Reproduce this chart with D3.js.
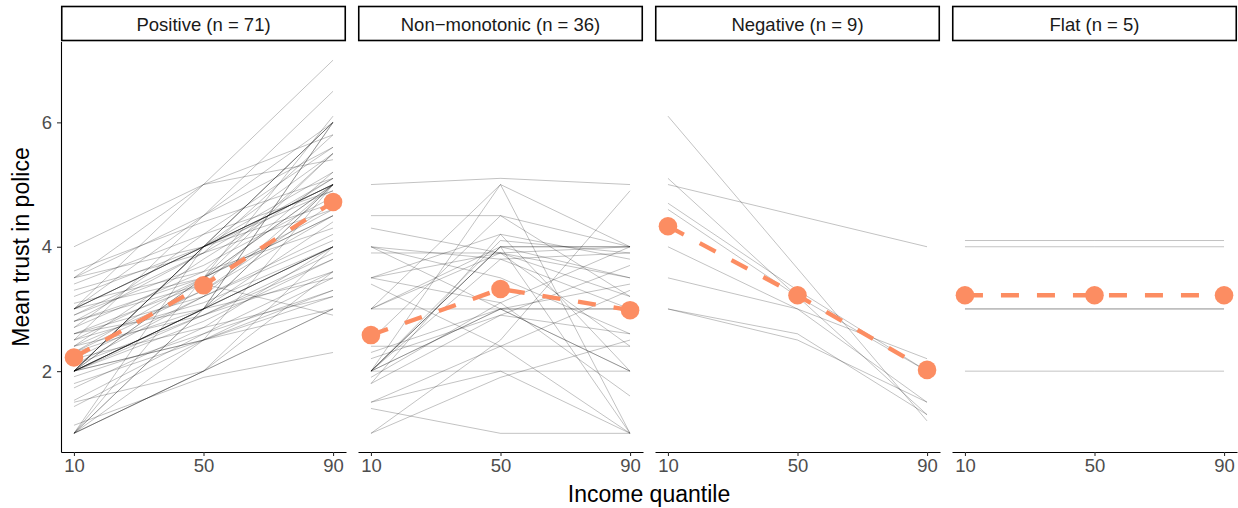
<!DOCTYPE html>
<html><head><meta charset="utf-8">
<script src="https://cdnjs.cloudflare.com/ajax/libs/d3/7.8.5/d3.min.js"></script>
<style>body{margin:0;background:#fff}svg{display:block;font-family:"Liberation Sans",Arial,sans-serif}</style>
</head><body><svg id="c" width="1238" height="508"></svg>
<script>
const quantiles = [10, 50, 90];
const xTicks = [10, 50, 90];
const yTicks = [2, 4, 6];
const facetLabels = ["Positive (n = 71)", "Non\u2212monotonic (n = 36)", "Negative (n = 9)", "Flat (n = 5)"];

const positiveLines = [
  [1,2,3],[1,2,4],[1,3,5],[1,3,6],[1,4,6],[1,2.5,5],[1,2,3.6],[1,3.5,5.5],
  [1.13,1.9,2.3],[1.43,2.5,3.2],[1.53,2.6,3.6],[1.73,2.7,4],[1.5,2,3],[1.8,2.5,3.3],
  [2,3,4],[2,3,4],[2,3,4],[2,3,4],[2,4,5],[2,4,5],[2,4,6],[2,3,5],[2,2.5,3],[2,3.5,4.5],
  [2,4,4.9],[2,3,6],[2,2.8,3.8],[2,2.5,3.5],[2,3.5,5],[2,4,5.5],[2,2.9,3.9],
  [1.91,2.6,3.3],[2.1,2.9,3.6],[2.2,3.2,4.2],[2.3,3,4.4],[2.4,3.3,4.5],[2.5,3.5,5],
  [2.5,3.1,4],[2.6,3.4,5.2],[2.7,3.6,5.5],[2.8,3.5,4.6],[2.8,3.9,5.8],[2.9,3.7,4.8],
  [2.4,2.9,3.8],[2.6,3,3.5],[2.3,3.5,6.1],[2.7,4.2,5.6],[2.5,4.5,6.5],[2.2,2.7,3.2],
  [2.4,3.8,5.1],[2.6,3.2,4.1],[2.1,3.2,5],[2.3,3.3,4.7],[2.9,3.9,5.1],
  [3,4,5],[3,4,5],[3,4,5],[3,4,6],[3,5,7],[3,3.5,4.5],[3,4.5,5.6],[3.09,3.6,4.3],
  [3.3,3.9,4.6],[3.2,4,5.2],
  [3.5,4,4.7],[3.61,4.4,5.1],[4,5,5.4],[3.4,4.2,4.9],[3.5,4.5,6],[3.5,5,5.8],[2.8,3.4,2.9]
];
const nonMonotonicLines = [
  [5,5.1,5],[4.5,4.5,4],[4.3,3.9,3.5],[4,3,2],[4,3.5,2.6],[3.9,3.9,4],[3.5,4.2,3.8],
  [3.5,3.9,3.2],[3.4,2.4,1],[3,4,4],[3,3,3],[3,5,4],[3,3.9,2.4],[2.4,2.4,2.4],
  [2.2,2.9,3.7],[2,5,1],[2,4,4],[2,4,1],[2,4,3.5],[2,3,2],[2,3,3],[2,2,2],[2,4.1,3.9],
  [1.9,3.1,4],[1.8,2.9,2.6],[1.5,2.4,3.3],[1.5,2,1],[1.4,1,1],[1,2.5,4.9],[1,1.9,2.5],
  [4,3.8,3],[3.5,3.1,1.6],[2.5,4.5,3.2],[2,3.8,3.9],[1.8,4.2,2],[2.3,3,3.4]
];
const negativeLines = [
  [6.1,3.65,1.2],[5.1,3.2,1.3],[5,4.5,4],[4.7,3.3,2],[4.6,3.2,2],
  [4,3,1.5],[3.5,3,2.2],[3,2.6,1.3],[3,2.5,1.5]
];
const flatLines = [
  [4.1,4.1,4.1],[4,4,4],[3,3,3],[3,3,3],[2,2,2]
];
const groupLines = [positiveLines, nonMonotonicLines, negativeLines, flatLines];

const meanPositive = [2.22, 3.38, 4.72];
const meanNonMonotonic = [2.58, 3.32, 2.98];
const meanNegative = [4.33, 3.22, 2.02];
const meanFlat = [3.22, 3.22, 3.22];
const groupMeans = [meanPositive, meanNonMonotonic, meanNegative, meanFlat];

const svg = d3.select("#c");
const panelLeft = 61, panelW = 285, pitch = 297, plotTop = 41.5, plotBottom = 452;
const y = d3.scaleLinear().domain([0.7, 7.3]).range([plotBottom, plotTop]);
const accent = "#FC8D62";
const smallFont = 18.5, titleFont = 23;

facetLabels.forEach((lab, i) => {
  const x0 = panelLeft + i * pitch;
  const x = d3.scaleLinear().domain([6, 94]).range([x0, x0 + panelW]);
  const g = svg.append("g");

  g.append("rect").attr("x", x0 + 0.75).attr("y", 6.5).attr("width", panelW - 1.5).attr("height", 34)
    .attr("fill", "#fff").attr("stroke", "#000").attr("stroke-width", 1.6);
  g.append("text").attr("x", x0 + panelW / 2).attr("y", 30.5).attr("text-anchor", "middle")
    .attr("font-size", smallFont).attr("fill", "#1a1a1a").text(lab);

  const line = d3.line().x((d, k) => x(quantiles[k])).y(d => y(d));

  g.append("g").selectAll("path").data(groupLines[i]).join("path")
    .attr("d", line).attr("fill", "none").attr("stroke", "#000")
    .attr("stroke-opacity", 0.27).attr("stroke-width", 0.9);

  g.append("path").attr("d", line(groupMeans[i])).attr("fill", "none")
    .attr("stroke", accent).attr("stroke-width", 4.3).attr("stroke-dasharray", "18,18");
  g.append("g").selectAll("circle").data(groupMeans[i]).join("circle")
    .attr("cx", (d, k) => x(quantiles[k])).attr("cy", d => y(d)).attr("r", 9.3).attr("fill", accent);

  const xa = g.append("g").attr("transform", `translate(0,${plotBottom})`)
    .call(d3.axisBottom(x).tickValues(xTicks).tickFormat(d3.format("d")).tickSize(4).tickPadding(3).tickSizeOuter(0));
  xa.select(".domain").attr("stroke", "#000").attr("stroke-width", 1.1);
  xa.selectAll(".tick line").attr("stroke", "#333").attr("stroke-width", 1.1);
  xa.selectAll(".tick text").attr("font-size", smallFont).attr("fill", "#4d4d4d")
    .attr("font-family", "Liberation Sans, Arial, sans-serif");

  if (i === 0) {
    const ya = g.append("g").attr("transform", `translate(${x0},0)`)
      .call(d3.axisLeft(y).tickValues(yTicks).tickFormat(d3.format("d")).tickSize(4).tickPadding(5).tickSizeOuter(0));
    ya.select(".domain").attr("stroke", "#000").attr("stroke-width", 1.1);
    ya.selectAll(".tick line").attr("stroke", "#333").attr("stroke-width", 1.1);
    ya.selectAll(".tick text").attr("font-size", smallFont).attr("fill", "#4d4d4d")
      .attr("font-family", "Liberation Sans, Arial, sans-serif");
  }
});

svg.append("text").attr("x", 649).attr("y", 502).attr("text-anchor", "middle")
  .attr("font-size", titleFont).attr("fill", "#000").text("Income quantile");
svg.append("text").attr("transform", "translate(29,247) rotate(-90)").attr("text-anchor", "middle")
  .attr("font-size", titleFont).attr("fill", "#000").text("Mean trust in police");
</script></body></html>
